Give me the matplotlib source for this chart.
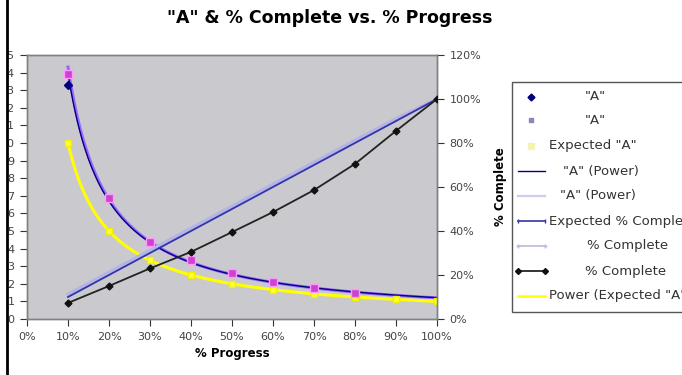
import numpy as np
import matplotlib
matplotlib.use('Agg')
import matplotlib.pyplot as plt
import matplotlib.transforms as mtransforms
from matplotlib.patches import Rectangle
from matplotlib.lines import Line2D

plt.rcParams['font.family'] = ['DejaVu Sans']

# % progress along the x axis
progress = [0.1, 0.2, 0.3, 0.4, 0.5, 0.6, 0.7, 0.8, 0.9, 1.0]

# "A" (left axis)
a_dark = [13.3, 6.8, 4.5, 3.3, 2.6, 2.15, 1.75, 1.5, 1.3, 1.2]
a_pink = [13.9, 6.85, 4.4, 3.35, 2.6, 2.1, 1.75, 1.5, 1.3, 1.2]
expected_a = [10.0, 5.0, 3.33, 2.5, 2.0, 1.67, 1.43, 1.25, 1.11, 1.0]

# % complete (right axis)
expected_complete = [0.1, 0.2, 0.3, 0.4, 0.5, 0.6, 0.7, 0.8, 0.9, 1.0]
pale_complete = [0.112, 0.212, 0.312, 0.412, 0.512, 0.612, 0.712, 0.812, 0.91, 1.0]
pct_complete = [0.073, 0.15, 0.23, 0.305, 0.395, 0.486, 0.586, 0.705, 0.855, 1.0]

left_ticks = list(range(0, 16))
right_ticks = [0, 0.2, 0.4, 0.6, 0.8, 1.0, 1.2]
x_ticks = [0, 0.1, 0.2, 0.3, 0.4, 0.5, 0.6, 0.7, 0.8, 0.9, 1.0]

W, H = 682, 375


def power_fit(x, y):
    """Excel-style power trendline y = c * x^b."""
    b, log_c = np.polyfit(np.log(x), np.log(y), 1)
    xs = np.linspace(min(x), max(x), 200)
    return xs, np.exp(log_c) * xs ** b


fig = plt.figure(figsize=(W / 100, H / 100), dpi=100)
fig.patch.set_facecolor('white')
# pixel coordinates, origin top-left
px = mtransforms.Affine2D().scale(1 / W, -1 / H).translate(0, 1) + fig.transFigure

ax = fig.add_axes([27 / W, 1 - 319 / H, 410 / W, 264 / H])
ax.set_facecolor('#cacace')
ax2 = ax.twinx()

tick_kw = dict(labelsize=8, colors='#333333', length=5, width=0.8, labelcolor='#444444')

# left axis: "A"
xs, ys = power_fit(progress, a_pink)
ax.plot(xs, ys, color='#9966ff', lw=2.2, zorder=3)
xs, ys = power_fit(progress, a_dark)
ax.plot(xs, ys, color='#000080', lw=1.0, zorder=4)
xs, ys = power_fit(progress, expected_a)
ax.plot(xs, ys, color='#ffff00', lw=2.2, zorder=3)
ax.plot(progress, expected_a, 's', ms=4.5, color='#ffff33', mec='#f0f000', zorder=4)
ax.plot(progress[:-2], a_pink[:-2], 's', ms=6, color='#cc44cc', mec='#ff99ff', zorder=5)
ax.plot(progress[:1], a_dark[:1], 'D', ms=4.5, color='#000080', zorder=6)

ax.set_xlim(0, 1.0)
ax.set_ylim(0, 15)
ax.set_xticks(x_ticks)
ax.set_xticklabels([f'{int(round(t * 100))}%' for t in x_ticks])
ax.set_yticks(left_ticks)
ax.set_yticklabels([str(t) for t in left_ticks])
ax.tick_params(axis='both', direction='out', pad=4, **tick_kw)
ax.set_xlabel('% Progress', fontsize=8.5, fontweight='bold', labelpad=4)

# right axis: % complete
ax2.plot(progress, pale_complete, color='#b4b4e6', lw=2.5, zorder=3)
ax2.plot(progress, expected_complete, color='#3333aa', lw=1.3, zorder=4)
ax2.plot(progress, pct_complete, color='#222222', lw=1.3, marker='D', ms=3.5,
         mfc='#111111', mec='#111111', zorder=5)
ax2.set_ylim(0, 1.2)
ax2.set_yticks(right_ticks)
ax2.set_yticklabels([f'{int(round(t * 100))}%' for t in right_ticks])
ax2.tick_params(axis='y', direction='out', pad=4, **tick_kw)
ax2.set_ylabel('% Complete', fontsize=8.5, fontweight='bold', labelpad=9)

for a in (ax, ax2):
    for s in a.spines.values():
        s.set_color('#808080')
        s.set_linewidth(1.0)

fig.text(330 / W, 1 - 18 / H, '"A" & % Complete vs. % Progress', ha='center', va='center',
         fontsize=12.5, fontweight='bold')

# chart border on the left, hiding the tens digit of the left axis labels
fig.patches.append(Rectangle((0, 0), 7, H, transform=px, facecolor='white',
                             edgecolor='none', zorder=20))
fig.lines.append(Line2D([7, 7], [0, H], transform=px, color='black', lw=2, zorder=21))

# legend box, running off the right edge
fig.patches.append(Rectangle((512, 82), 300, 230, transform=px, facecolor='white',
                             edgecolor='#555555', lw=1.0, zorder=10))

entries = [
    ('"A"', 585, dict(marker='D', ms=3.5, color='#000080', ls='none')),
    ('"A"', 585, dict(marker='s', ms=3.5, color='#8888bb', ls='none')),
    ('Expected "A"', 549, dict(marker='s', ms=4, color='#f4f4b0', ls='none')),
    ('"A" (Power)', 563, dict(color='#000080', lw=1.0)),
    ('"A" (Power)', 560, dict(color='#ccccee', lw=1.6)),
    ('Expected % Complete', 549, dict(color='#3333aa', lw=1.2, marker='|', ms=3)),
    ('% Complete', 587, dict(color='#bbbbdd', lw=1.2, marker='+', ms=3)),
    ('% Complete', 585, dict(color='#111111', lw=1.2, marker='D', ms=3)),
    ('Power (Expected "A")', 549, dict(color='#ffff00', lw=1.8)),
]
rows_y = [97, 120, 146, 171, 196, 221, 246, 271, 296]
for (label, tx, style), ry in zip(entries, rows_y):
    if style.get('ls') == 'none':
        fig.lines.append(Line2D([531], [ry], transform=px, zorder=11, **style))
    else:
        fig.lines.append(Line2D([518, 545], [ry, ry], transform=px, zorder=11, **style))
    fig.text(tx, ry, label, transform=px, ha='left', va='center', fontsize=9.5,
             color='#333333', zorder=12)

fig.savefig('out.png', dpi=100)
